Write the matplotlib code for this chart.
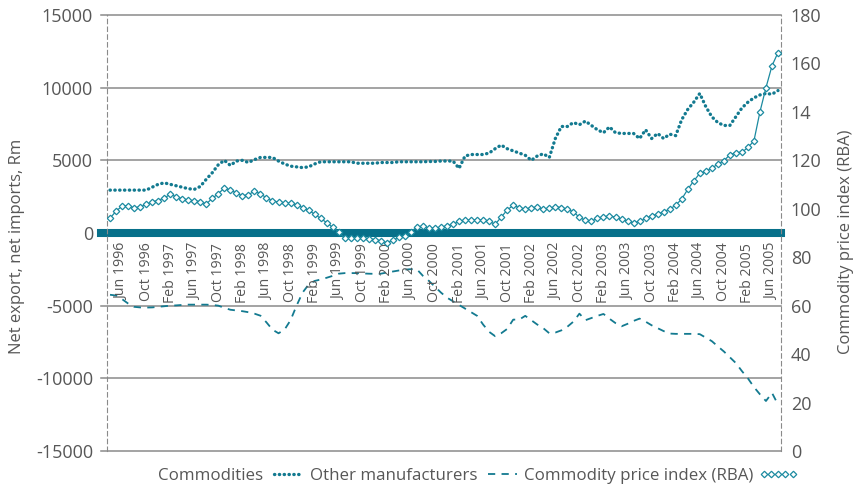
import pandas as pd
import matplotlib
matplotlib.use('Agg')
from matplotlib import pyplot as plt
from matplotlib.lines import Line2D

plt.rcParams['font.family'] = ['Open Sans', 'DejaVu Sans']

# monthly categories, Apr 1996 - Jul 2005
months = pd.date_range('1996-04-01', periods=112, freq='MS')
tick_idx = list(range(2, 112, 4))
tick_labels = [months[i].strftime('%b %Y') for i in tick_idx]

# net exports, Rm (left axis)
commodities = [
    2950, 2950, 2950, 2950, 2950, 2950, 2950, 3150, 3350, 3450,
    3350, 3250, 3150, 3050, 3000, 3200, 3700, 4150, 4700, 5000,
    4650, 4950, 5000, 4850, 5050, 5200, 5200, 5200, 4950, 4750,
    4600, 4550, 4500, 4550, 4750, 4900, 4900, 4900, 4900, 4900,
    4900, 4800, 4800, 4800, 4800, 4850, 4850, 4850, 4900, 4900,
    4900, 4900, 4900, 4920, 4920, 4950, 4950, 4950, 4450, 5300,
    5400, 5400, 5400, 5500, 5800, 6050, 5800, 5650, 5500, 5350,
    5000, 5300, 5450, 5200, 6500, 7330, 7330, 7600, 7450, 7700,
    7400, 7100, 6900, 7300, 6900, 6850, 6850, 6850, 6500, 7100,
    6500, 6850, 6500, 6800, 6700, 7800, 8500, 9000, 9600, 8700,
    8000, 7600, 7400, 7400, 8000, 8600, 9000, 9300, 9500, 9600,
    9550, 9800]

# net imports, Rm (left axis)
other_manuf = [
    -4250, -4300, -4550, -4850, -5080, -5120, -5130, -5120, -5080, -5040,
    -5000, -4980, -4950, -4930, -4930, -4930, -4930, -4950, -5000, -5150,
    -5280, -5330, -5380, -5450, -5550, -5690, -6150, -6650, -6900, -6650,
    -6000, -5000, -4100, -3550, -3300, -3200, -3080, -2950, -2800, -2760,
    -2760, -2760, -2780, -2800, -2810, -2800, -2720, -2650, -2580, -2520,
    -2490, -2500, -2950, -3300, -3700, -4100, -4450, -4700, -4950, -5200,
    -5450, -5700, -6300, -6800, -7100, -6900, -6600, -5960, -5960, -5700,
    -6000, -6300, -6550, -6900, -6850, -6700, -6450, -6100, -5550, -6000,
    -5850, -5700, -5570, -5900, -6200, -6420, -6250, -6050, -5890, -6100,
    -6350, -6550, -6750, -6920, -6940, -6940, -6940, -6940, -6960, -7200,
    -7440, -7800, -8150, -8550, -8950, -9500, -10000, -10600, -11100, -11560,
    -11000, -11800]

# RBA commodity price index (right axis)
price_index = [
    96.1, 99.0, 101.1, 101.3, 100.4, 100.8, 101.8, 102.9, 103.4, 104.5,
    105.9, 105.0, 104.2, 103.6, 103.2, 103.0, 102.0, 104.3, 106.3, 108.5,
    107.8, 106.5, 105.4, 105.8, 107.3, 106.2, 104.5, 103.3, 102.8, 102.5,
    102.2, 101.7, 100.5, 99.3, 97.8, 96.0, 94.3, 92.3, 90.5, 87.8,
    87.9, 87.9, 87.9, 87.7, 87.3, 86.8, 86.0, 87.0, 88.2, 88.6,
    90.5, 92.5, 92.8, 92.0, 92.0, 92.3, 93.0, 93.6, 94.8, 95.3,
    95.3, 95.4, 95.4, 94.8, 93.6, 96.5, 99.5, 101.4, 100.5, 99.8,
    100.5, 100.6, 99.8, 100.2, 100.8, 100.5, 99.8, 98.7, 96.5, 95.2,
    95.0, 96.0, 96.7, 97.0, 96.6, 95.8, 94.8, 94.3, 94.8, 96.0,
    97.2, 97.8, 98.8, 99.8, 101.5, 104.0, 108.0, 111.5, 114.6, 115.5,
    116.7, 118.5, 119.8, 122.3, 123.2, 123.3, 125.3, 128.0, 140.0, 150.0,
    159.0, 164.5]

left_ticks = [-15000, -10000, -5000, 0, 5000, 10000, 15000]
right_ticks = [0, 20, 40, 60, 80, 100, 120, 140, 160, 180]
right_labels = ['0', '20', '40', '60', '80', '100', '120', '14', '160', '180']

teal = '#137a90'
band = '#07708a'
grey = '#575757'
gridc = '#8a8a8a'

fig = plt.figure(figsize=(8.59, 4.88), dpi=100)
ax = fig.add_axes([107 / 859, 37 / 488, 674 / 859, 436 / 488])
ax2 = ax.twinx()

x = list(range(len(months)))

for v in left_ticks:
    if v != 0:
        ax.axhline(v, xmin=-0.009, xmax=1, color=gridc, lw=1.1, clip_on=False, zorder=1)
ax.axhline(0, xmin=-0.009, xmax=1, color=band, lw=5.8, clip_on=False, zorder=2)

ax.plot(x, commodities, color=teal, lw=2.4, linestyle=(0, (0.1, 1.35)),
        dash_capstyle='round', zorder=3)
ax.plot(x, other_manuf, color=teal, lw=1.3, linestyle=(0, (4, 3.5)), zorder=3)
ax2.plot(x, price_index, color='#1b8aa0', lw=0.9, marker='D', markersize=3.3,
         markerfacecolor='white', markeredgewidth=0.9, zorder=3)

ax.set_xlim(-0.5, len(months) - 0.5)
ax.set_ylim(-15000, 15000)
ax2.set_ylim(0, 180)

ax.set_yticks(left_ticks)
ax.set_yticklabels([str(v) for v in left_ticks])
ax2.set_yticks(right_ticks)
ax2.set_yticklabels(right_labels)
ax.set_xticks([])

ax.tick_params(axis='y', length=0, labelsize=13, labelcolor=grey, pad=10)
ax2.tick_params(axis='y', length=0, labelsize=13, labelcolor=grey, pad=7)

for a in (ax, ax2):
    for s in ('top', 'bottom', 'left', 'right'):
        a.spines[s].set_visible(False)
ax.spines['left'].set_visible(True)
ax.spines['left'].set_linestyle((0, (4, 3)))
ax.spines['left'].set_color(gridc)
ax2.spines['right'].set_visible(True)
ax2.spines['right'].set_linestyle((0, (4, 3)))
ax2.spines['right'].set_color(gridc)

for i, lab in zip(tick_idx, tick_labels):
    ax.annotate(lab, (i, 0), xytext=(0, -7), textcoords='offset points',
                rotation=90, ha='center', va='top', fontsize=10.2, color=grey)

ax.set_ylabel('Net export, net imports, Rm', fontsize=12, color=grey)
ax.yaxis.set_label_coords(-0.122, 0.47)
ax2.set_ylabel('Commodity price index (RBA)', fontsize=12, color=grey)
ax2.yaxis.set_label_coords(1.084, 0.48)

handles = [
    Line2D([], [], color=teal, lw=2.4, linestyle=(0, (0.1, 1.35)), dash_capstyle='round'),
    Line2D([], [], color=teal, lw=1.3, linestyle=(0, (4, 3.5))),
    Line2D([], [], color='#1b8aa0', linestyle='none', marker='D', markersize=3.3,
           markerfacecolor='white', markeredgewidth=0.9),
]
fig.legend(handles, ['Commodities', 'Other manufacturers', 'Commodity price index (RBA)'],
           loc='center', bbox_to_anchor=(478 / 859, 1 - 476 / 488), ncol=3,
           frameon=False, markerfirst=False, numpoints=5, fontsize=12.2,
           labelcolor=grey, handlelength=2.3, handletextpad=0.3, columnspacing=0.15)

fig.savefig('out.png', dpi=100)
